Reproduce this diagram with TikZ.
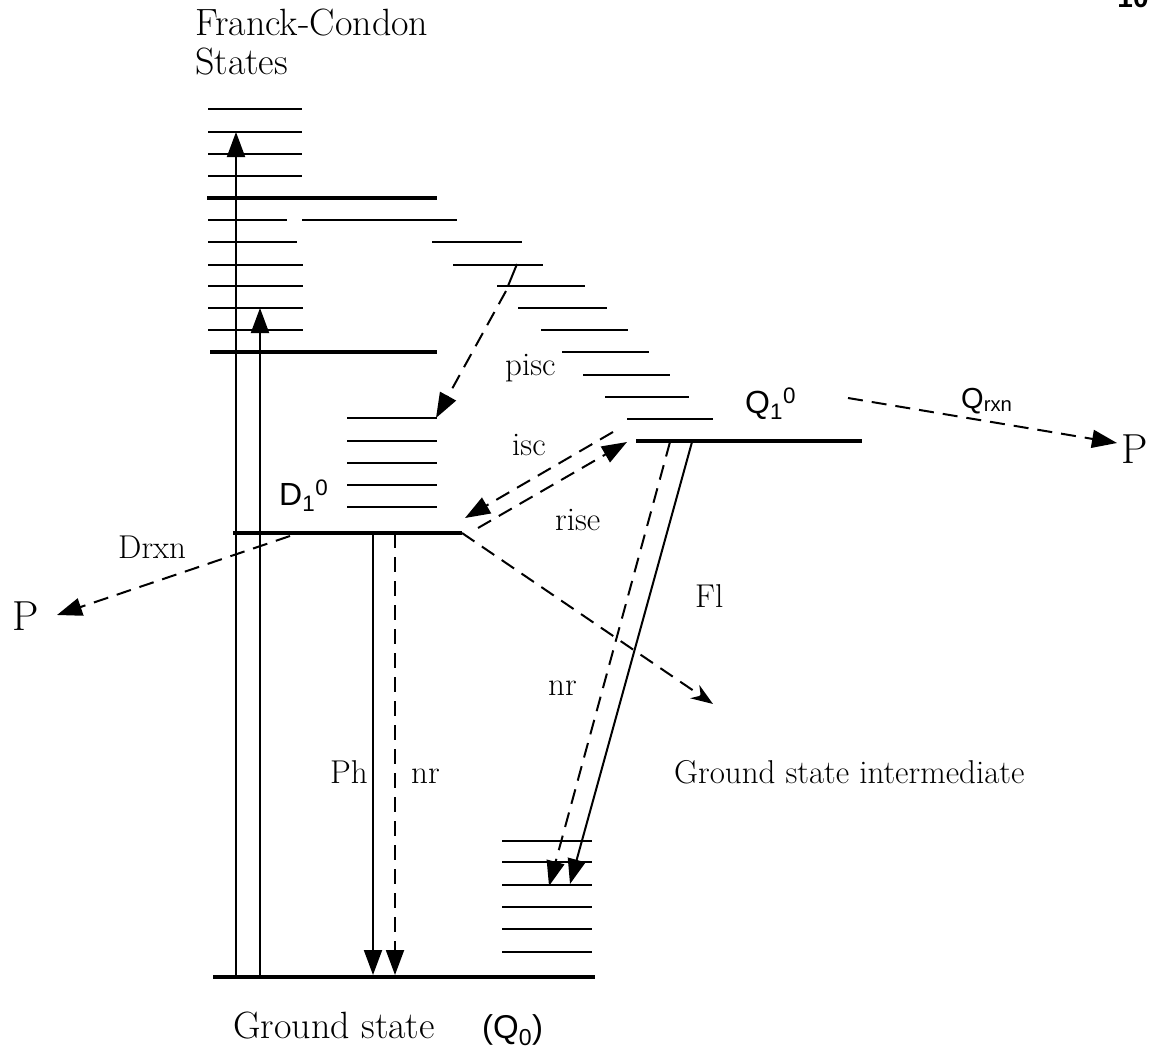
\documentclass[tikz,border=0pt]{standalone}
\usepackage{fontspec}
\setsansfont{Liberation Sans}
\usetikzlibrary{arrows.meta}

\begin{document}
\begin{tikzpicture}[x=1pt,y=-1pt,
  thin lev/.style={line width=1.8pt},
  thick lev/.style={line width=4.5pt},
  solidarrow/.style={line width=2pt,-{Triangle[length=25pt,width=18pt]}},
  dasharrow/.style={line width=2pt,dash pattern=on 15pt off 9pt,-{Triangle[length=25pt,width=18pt]}},
  lbl/.style={inner sep=0pt,anchor=base west,font=\fontsize{33}{38}\selectfont},
  biglbl/.style={inner sep=0pt,anchor=base west,font=\fontsize{38}{44}\selectfont},
  sflbl/.style={inner sep=0pt,anchor=base west,font=\sffamily\fontsize{32}{38}\selectfont},
]
\useasboundingbox (0,0) rectangle (1165,1052);

% ---------- Franck-Condon stack ----------
\foreach \y in {109,132,154,176}
  \draw[thin lev] (208,\y) -- (302,\y);
\draw[thick lev] (207,198) -- (437,198);
\draw[thin lev] (208,220) -- (287,220);
\draw[thin lev] (208,242) -- (297,242);
\foreach \y in {265,286,308,330}
  \draw[thin lev] (208,\y) -- (303,\y);
\draw[thick lev] (210,352) -- (437,352);

% ---------- vibrational staircase leading to Q1 ----------
\foreach \y/\a/\b in {220/302/457,242/432/522,265/453/543,286/497/585,
                      308/518/607,330/541/628,352/562/649,375/583/670,
                      397/605/689,419/627/713}
  \draw[thin lev] (\a,\y) -- (\b,\y);
\draw[thick lev] (636,441) -- (862,441);

% ---------- D1 stack ----------
\foreach \y in {418,441,463,485,507}
  \draw[thin lev] (347,\y) -- (437,\y);
\draw[thick lev] (233,533) -- (462,533);

% ---------- ground-state stack ----------
\foreach \y in {841,862,885,907,929,952}
  \draw[thin lev] (502,\y) -- (592,\y);
\draw[thick lev] (213,977) -- (595,977);

% ---------- key points ----------
\coordinate (exA0) at (236,977);  \coordinate (exA1) at (236,132);
\coordinate (exB0) at (260,977);  \coordinate (exB1) at (260,308);
\coordinate (ph0)  at (373,533);  \coordinate (ph1)  at (373,975);
\coordinate (nr0)  at (395,533);  \coordinate (nr1)  at (395,975);
\coordinate (pt0)  at (517,264);  \coordinate (pt1)  at (508,286);
\coordinate (pi0)  at (506,291);  \coordinate (pi1)  at (436,418);
\coordinate (is0)  at (613,432);  \coordinate (is1)  at (465,518);
\coordinate (ri0)  at (478,528);  \coordinate (ri1)  at (627,442);
\coordinate (gi0)  at (462,533);  \coordinate (gi1)  at (713,704);
\coordinate (dr0)  at (290,536);  \coordinate (dr1)  at (57,615);
\coordinate (qn0)  at (670,442);  \coordinate (qn1)  at (549,886);
\coordinate (fl0)  at (692,442);  \coordinate (fl1)  at (570,884);
\coordinate (qr0)  at (848,398);  \coordinate (qr1)  at (1117,443);

% ---------- labels ----------
\node[biglbl] (fc1) at (195,35) {Franck-Condon};
\node[biglbl] (fc2) at (195,74) {States};
\node[lbl] (pisc) at (505,375) {pisc};
\node[sflbl] (q1) at (745,413) {Q\textsubscript{1}\textsuperscript{0}};
\node[sflbl,font=\sffamily\fontsize{29}{34}\selectfont] (qrxn) at (961,408) {Q\textsubscript{rxn}};
\node[inner sep=0pt,anchor=base west,font=\fontsize{42}{46}\selectfont] (pR) at (1121,463) {P};
\node[lbl] (isc) at (512,455) {isc};
\node[sflbl] (d1) at (279,505) {D\textsubscript{1}\textsuperscript{0}};
\node[lbl] (rise) at (555,530) {rise};
\node[lbl] (drxn) at (118,558) {Drxn};
\node[inner sep=0pt,anchor=base west,font=\fontsize{42}{46}\selectfont] (pL) at (12,630) {P};
\node[lbl] (fl) at (695,607) {Fl};
\node[lbl] (nrR) at (548,695) {nr};
\node[lbl] (gsi) at (674,783) {Ground state intermediate};
\node[lbl] (ph) at (330,783) {Ph};
\node[lbl] (nrL) at (411,783) {nr};
\node[biglbl] (gs) at (233,1038) {Ground state};
\node[sflbl,font=\sffamily\fontsize{33}{38}\selectfont] (q0) at (482,1038) {(Q\textsubscript{0})};
\node[inner sep=0pt,anchor=base,font=\sffamily\bfseries\fontsize{28}{32}\selectfont] (pg) at (1133,7) {10};

% ---------- transitions ----------
\draw[solidarrow] (exA0) -- (exA1);
\draw[solidarrow] (exB0) -- (exB1);
\draw[solidarrow] (ph0) -- (ph1);
\draw[dasharrow] (nr0) -- (nr1);
\draw[line width=2pt] (pt0) -- (pt1);
\draw[dasharrow] (pi0) -- (pi1);
\draw[dasharrow] (is0) -- (is1);
\draw[dasharrow] (ri0) -- (ri1);
\draw[line width=2pt,dash pattern=on 15pt off 9pt,-{Stealth[length=22pt,width=16pt]}] (gi0) -- (gi1);
\draw[dasharrow] (dr0) -- (dr1);
\draw[dasharrow] (qn0) -- (qn1);
\draw[solidarrow] (fl0) -- (fl1);
\draw[dasharrow] (qr0) -- (qr1);
\end{tikzpicture}
\end{document}
